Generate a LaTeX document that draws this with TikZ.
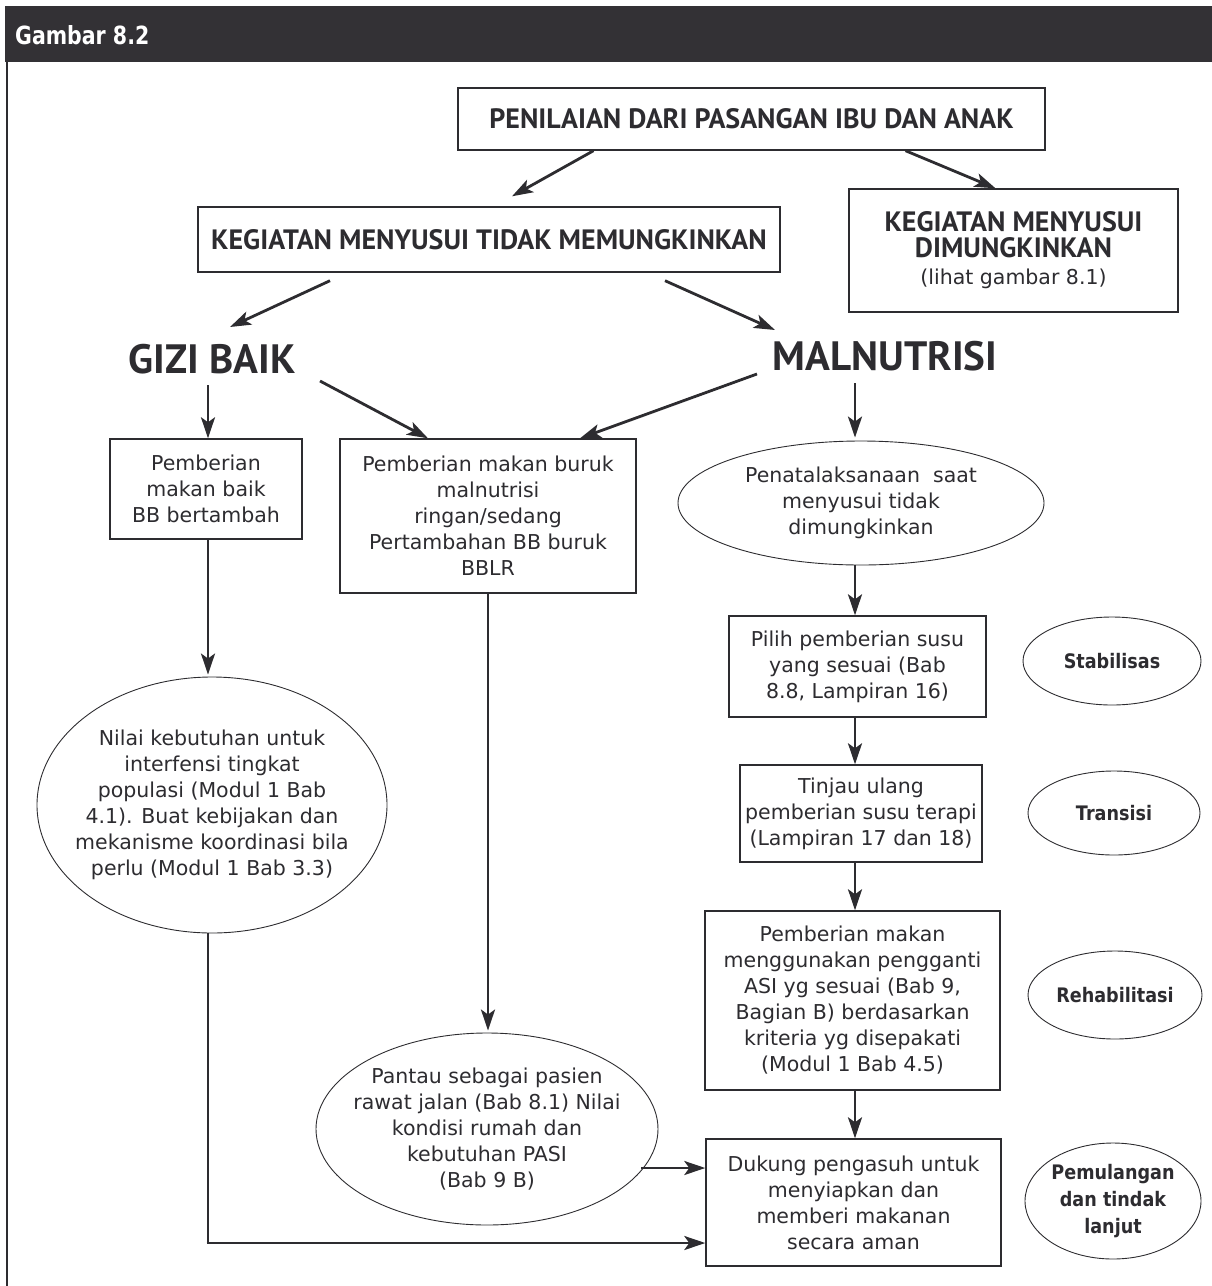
\documentclass[tikz,border=0pt]{standalone}
\usepackage{fontspec}
\setmainfont{DejaVu Sans}
\newfontfamily\headfont{PT Sans}
\newfontfamily\tahfont{DejaVu Sans}[FakeStretch=0.88]
\newfontfamily\titfont{DejaVu Sans}[FakeStretch=0.82]
\usetikzlibrary{shapes.geometric,arrows.meta,calc}
\definecolor{ink}{RGB}{45,44,48}
\definecolor{bar}{RGB}{51,49,53}
\newcommand\bodyf{\fontsize{20.5}{26}\selectfont}
\newcommand\hdf{\headfont\bfseries\fontsize{28}{25}\selectfont}
\newcommand\bigf{\headfont\bfseries\fontsize{41}{44}\selectfont}
\newcommand\tagf{\tahfont\bfseries\fontsize{20}{27}\selectfont}
\begin{document}
\begin{tikzpicture}[x=1pt,y=-1pt,
  box/.style={draw=ink,line width=1.4pt,fill=white,align=center,inner sep=0pt,text=ink,font=\bodyf},
  ell/.style={ellipse,draw=ink,line width=0.9pt,inner sep=0pt},
  txt/.style={align=center,inner sep=0pt,text=ink,font=\bodyf},
  tagt/.style={align=center,inner sep=0pt,text=ink,font=\tagf},
  big/.style={inner sep=0pt,text=ink,font=\bigf},
  arr/.style={draw=ink,line width=2.8pt,-{Stealth[length=21pt,width=14pt,inset=5pt]}},
  ln/.style={draw=ink,line width=2.8pt}]
\useasboundingbox (0,0) rectangle (1212,1286);
% header
\fill[bar] (5,6) rectangle (1212,62);
\node[anchor=west,text=white,inner sep=0pt,font=\titfont\bfseries\fontsize{25}{26}\selectfont] (title) at (15,35) {Gambar 8.2};
\draw[ink,line width=1.6pt] (7,62) -- (7,1286);

% top boxes
\node[box,font=\hdf,minimum width=587pt,minimum height=62pt] (pen) at (751.5,119) {PENILAIAN DARI PASANGAN IBU DAN ANAK};
\node[box,font=\hdf,minimum width=582pt,minimum height=65pt] (ktm) at (489,239.5) {KEGIATAN MENYUSUI TIDAK MEMUNGKINKAN};
\node[box,minimum width=329pt,minimum height=123pt] (kdm) at (1013.5,250.5) {{\hdf KEGIATAN MENYUSUI}\\[0pt]{\hdf DIMUNGKINKAN}\\[1pt](lihat gambar 8.1)};

% level 2 labels
\node[big] (gizi) at (212,359) {GIZI BAIK};
\node[big] (maln) at (885,356) {MALNUTRISI};

% left column
\node[box,minimum width=192pt,minimum height=100pt] (pb) at (206,489) {Pemberian\\makan baik\\BB bertambah};
\node[ell,minimum width=350pt,minimum height=256pt] (nilai) at (212,805) {};
\node[txt] (nilaiT) at (nilai.center) {Nilai kebutuhan untuk\\interfensi tingkat\\populasi (Modul 1 Bab\\4.1). Buat kebijakan dan\\mekanisme koordinasi bila\\perlu (Modul 1 Bab 3.3)};

% middle column
\node[box,minimum width=296pt,minimum height=154pt] (pbk) at (488,516) {Pemberian makan buruk\\malnutrisi\\ringan/sedang\\Pertambahan BB buruk\\BBLR};
\node[ell,minimum width=342pt,minimum height=192pt] (pantau) at (487,1129) {};
\node[txt] (pantauT) at (pantau.center) {Pantau sebagai pasien\\rawat jalan (Bab 8.1) Nilai\\kondisi rumah dan\\kebutuhan PASI\\(Bab 9 B)};

% right column
\coordinate (colx) at (855,0);
\node[ell,minimum width=366pt,minimum height=124pt] (pena) at (861,503) {};
\node[txt] (penaT) at (pena.center) {Penatalaksanaan\ \ saat\\menyusui tidak\\dimungkinkan};
\node[box,minimum width=257pt,minimum height=101pt] (pilih) at (857.5,666.5) {Pilih pemberian susu\\yang sesuai (Bab\\8.8, Lampiran 16)};
\node[box,minimum width=242pt,minimum height=97pt] (tinjau) at (861,813.5) {Tinjau ulang\\pemberian susu terapi\\(Lampiran 17 dan 18)};
\node[box,minimum width=295pt,minimum height=179pt] (rehab) at (852.5,1000.5) {Pemberian makan\\menggunakan pengganti\\ASI yg sesuai (Bab 9,\\Bagian B) berdasarkan\\kriteria yg disepakati\\(Modul 1 Bab 4.5)};
\node[box,minimum width=295pt,minimum height=127pt] (dukung) at (853.5,1202.5) {Dukung pengasuh untuk\\menyiapkan dan\\memberi makanan\\secara aman};

% phase tags
\node[ell,minimum width=178pt,minimum height=88pt] (stab) at (1112,661) {};
\node[tagt] (stabT) at (stab.center) {Stabilisas};
\node[ell,minimum width=172pt,minimum height=84pt] (trans) at (1114,813) {};
\node[tagt] (transT) at (trans.center) {Transisi};
\node[ell,minimum width=174pt,minimum height=88pt] (rehtag) at (1115,995) {};
\node[tagt] (rehtagT) at (rehtag.center) {Rehabilitasi};
\node[ell,minimum width=176pt,minimum height=116pt] (pul) at (1113,1201) {};
\node[tagt] (pulT) at (pul.center) {Pemulangan\\dan tindak\\lanjut};

% connectors
\draw[arr] ($(pen.south)+(-158,0)$) -- ($(ktm.north)+(23,-10)$);
\draw[arr] ($(pen.south)+(154,0)$) -- ($(kdm.north)+(-18,0)$);
\draw[arr] ($(ktm.south)+(-159,8)$) -- ($(gizi.center)+(18,-32)$);
\draw[arr] ($(ktm.south)+(176,8)$) -- ($(maln.center)+(-110,-26)$);
\draw[arr] ($(gizi.center)+(-4,26)$) -- ($(pb.north)+(2,0)$);
\draw[arr] ($(gizi.center)+(108,22)$) -- ($(pbk.north)+(-60,0)$);
\draw[arr] ($(maln.center)+(-128,18)$) -- ($(pbk.north)+(92,0)$);
\draw[arr] ($(maln.center)+(-30,27)$) -- ($(pena.north -| colx)+(0,-3)$);
\draw[arr] ($(pb.south)+(2,0)$) -- ($(nilai.north)+(-4,-2)$);
\draw[arr] ($(pbk.south)+(0,0)$) -- ($(pantau.north)+(1,-2)$);
\draw[arr] (pena.south -| colx) -- (pilih.north -| colx);
\draw[arr] (pilih.south -| colx) -- (tinjau.north -| colx);
\draw[arr] (tinjau.south -| colx) -- (rehab.north -| colx);
\draw[arr] (rehab.south -| colx) -- (dukung.north -| colx);
\coordinate (ps) at ($(pantau.center)+(154,39)$);
\draw[arr] (ps) -- (ps -| dukung.west);
\coordinate (nb) at ($(nilai.south)+(-4,0)$);
\coordinate (corner) at (nb |- 0,1243);
\draw[ln] (nb) -- (corner);
\draw[arr] ([xshift=-1.4pt]corner) -- (corner -| dukung.west);
\end{tikzpicture}
\end{document}
